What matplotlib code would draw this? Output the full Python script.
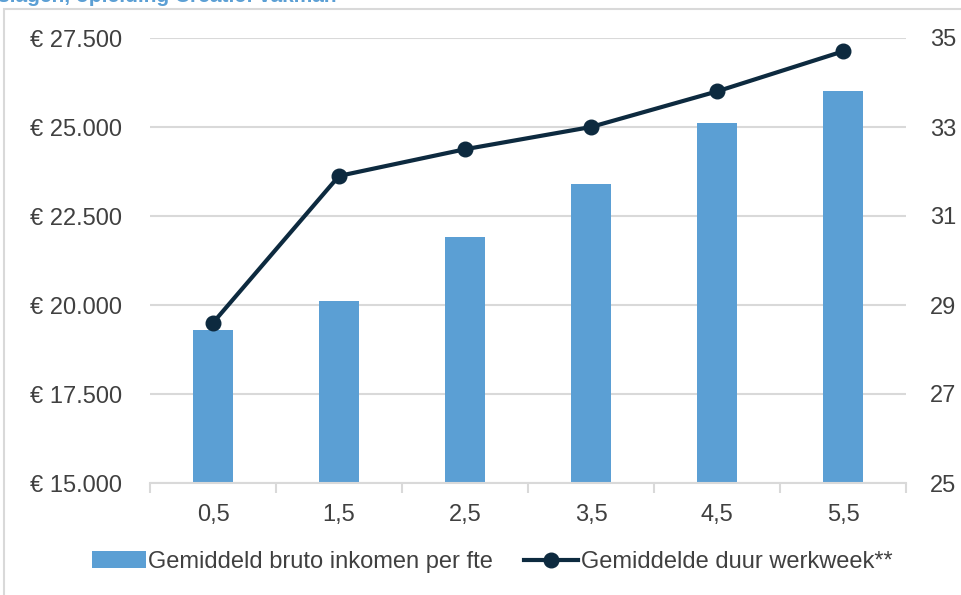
import matplotlib
matplotlib.use("Agg")
import matplotlib.pyplot as plt
from matplotlib.patches import Rectangle

plt.rcParams['font.family'] = ['Liberation Sans', 'DejaVu Sans']

# data
categories = ['0,5', '1,5', '2,5', '3,5', '4,5', '5,5']
inkomen = [19300, 20100, 21900, 23400, 25100, 26000]
werkweek = [28.6, 31.9, 32.5, 33.0, 33.8, 34.7]
left_ticks = [15000, 17500, 20000, 22500, 25000, 27500]
left_labels = ['€ 15.000', '€ 17.500', '€ 20.000', '€ 22.500', '€ 25.000', '€ 27.500']
right_ticks = [25, 27, 29, 31, 33, 35]

bar_color = '#5B9FD4'
line_color = '#0D2A3F'
grid_color = '#D9D9D9'
text_color = '#404040'

fig = plt.figure(figsize=(9.61, 5.95), dpi=100)
ax = fig.add_axes([150/961, 1-483/595, 756/961, 445/595])

x = list(range(len(categories)))
bars = ax.bar(x, inkomen, width=0.32, color=bar_color, zorder=2,
              label='Gemiddeld bruto inkomen per fte')
ax.set_xlim(-0.5, len(categories) - 0.5)
ax.set_ylim(15000, 27500)
ax.set_yticks(left_ticks)
ax.set_yticklabels(left_labels)
ax.set_xticks(x)
ax.set_xticklabels(categories)
ax.set_xticks([i - 0.5 for i in range(len(categories) + 1)], minor=True)
ax.tick_params(axis='x', which='major', length=0, pad=15, labelsize=17, colors=text_color)
ax.tick_params(axis='x', which='minor', length=7, width=1.5, color=grid_color)
ax.tick_params(axis='y', length=0, pad=20, labelsize=17, colors=text_color)
ax.set_axisbelow(True)
ax.yaxis.grid(True, color=grid_color, linewidth=1.5)
for s in ['top', 'left', 'right']:
    ax.spines[s].set_visible(False)
ax.spines['bottom'].set_color(grid_color)
ax.spines['bottom'].set_linewidth(1.5)

ax2 = ax.twinx()
line, = ax2.plot(x, werkweek, color=line_color, linewidth=3, marker='o',
                 markersize=10.5, label='Gemiddelde duur werkweek**', zorder=3)
ax2.set_ylim(25, 35)
ax2.set_yticks(right_ticks)
ax2.tick_params(axis='y', length=0, pad=17, labelsize=17, colors=text_color)
for s in ax2.spines.values():
    s.set_visible(False)

fig.legend(handles=[bars, line], loc='center', bbox_to_anchor=(492/961, 1-562/595),
           ncol=2, frameon=False, fontsize=17, labelcolor=text_color,
           handlelength=2.3, handletextpad=0.1, columnspacing=1.3, borderpad=0)

# chart frame, partly outside the image
fig.patches.append(Rectangle((4/961, -0.1), 1.2, 1.1 - 9/595, transform=fig.transFigure,
                             fill=False, edgecolor=grid_color, linewidth=1.5))

fig.text(-2/961, 1 - 1.5/595, 'slagen, opleiding Creatief vakman', fontsize=15,
         fontweight='bold', color=bar_color, va='baseline', ha='left')

fig.savefig('out.png', dpi=100)
